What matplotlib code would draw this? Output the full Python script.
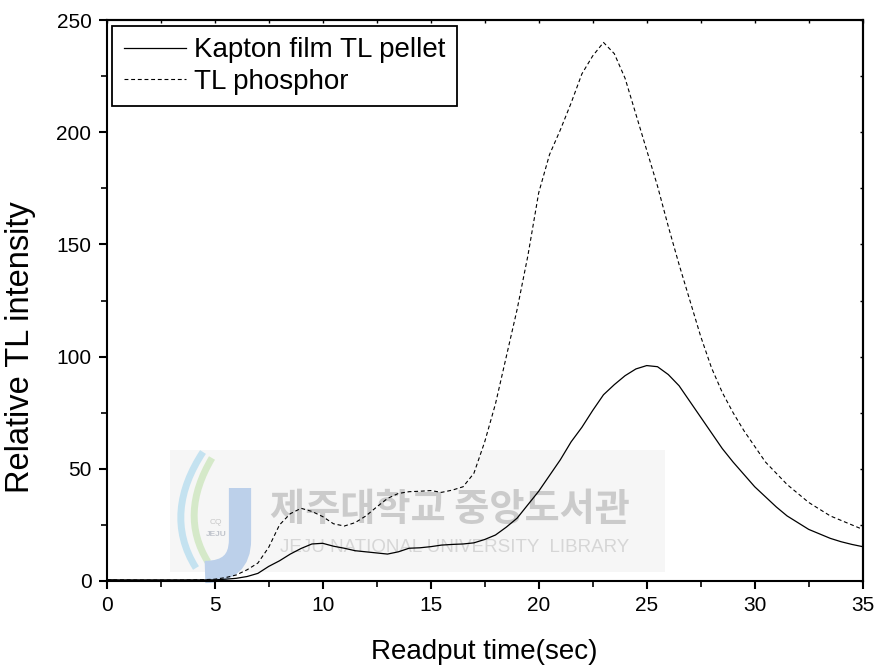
import numpy as np
import matplotlib
matplotlib.use("Agg")
import matplotlib.pyplot as plt
from matplotlib.patches import Rectangle, PathPatch
from matplotlib.path import Path

plt.rcParams['font.family'] = ['Liberation Sans', 'DejaVu Sans']

# Readout time (s)
time_s = np.arange(0, 35.01, 0.5)

kapton = [0.6, 0.5, 0.5, 0.5, 0.5, 0.5, 0.5, 0.5, 0.5, 0.5,
          0.5, 0.8, 1.2, 2.0, 3.4, 6.5, 9.0, 12.0, 14.5, 16.5,
          16.8, 15.5, 14.6, 13.5, 13.0, 12.5, 12.0, 13.0, 14.6, 14.8,
          15.3, 16.0, 16.3, 16.5, 17.0, 18.5, 20.5, 24.0, 28.0, 34.0,
          40.0, 47.0, 54.0, 62.0, 68.5, 76.0, 83.0, 87.5, 91.5, 94.5,
          96.0, 95.5, 92.0, 87.0, 80.0, 73.0, 66.0, 59.0, 53.0, 47.5,
          42.0, 37.5, 33.0, 29.0, 26.0, 23.0, 21.0, 19.0, 17.5, 16.3,
          15.3]

phosphor = [0.5, 0.5, 0.5, 0.4, 0.4, 0.4, 0.4, 0.4, 0.5, 0.6,
            0.8, 1.5, 2.7, 5.0, 8.0, 15.0, 25.0, 30.0, 32.4, 31.0,
            28.7, 25.5, 24.5, 26.0, 29.0, 33.0, 36.8, 39.0, 39.8, 40.0,
            40.3, 39.5, 40.5, 42.0, 48.0, 62.0, 79.0, 100.0, 121.0, 145.0,
            173.0, 190.0, 201.0, 213.0, 226.0, 234.0, 240.0, 235.0, 224.0, 208.0,
            192.0, 176.0, 158.0, 141.0, 125.0, 109.0, 95.0, 84.0, 75.0, 67.0,
            60.0, 53.0, 48.0, 43.0, 39.0, 35.0, 32.0, 29.0, 27.0, 25.0,
            23.0]

W, H = 881, 670
fig = plt.figure(figsize=(W / 100, H / 100), dpi=100)

# Library watermark layer in pixel coordinates
wm = fig.add_axes([0, 0, 1, 1], zorder=0)
wm.set_xlim(0, W)
wm.set_ylim(H, 0)
wm.axis('off')
wm.add_patch(Rectangle((170, 450), 495, 122, facecolor='#f6f6f6', edgecolor='none'))
swoosh1 = Path([(203, 452), (178, 490), (172, 530), (196, 568)],
               [Path.MOVETO, Path.CURVE4, Path.CURVE4, Path.CURVE4])
swoosh2 = Path([(212, 458), (190, 495), (188, 530), (208, 562)],
               [Path.MOVETO, Path.CURVE4, Path.CURVE4, Path.CURVE4])
wm.add_patch(PathPatch(swoosh1, facecolor='none', edgecolor='#bfe0f0', lw=5, alpha=0.9))
wm.add_patch(PathPatch(swoosh2, facecolor='none', edgecolor='#d2e8c4', lw=5, alpha=0.9))
jpath = Path([(240, 488), (240, 540), (240, 572), (205, 572)],
             [Path.MOVETO, Path.LINETO, Path.CURVE3, Path.CURVE3])
wm.add_patch(PathPatch(jpath, facecolor='none', edgecolor='#bcd0ea', lw=16,
                       capstyle='butt'))
wm.text(216, 522, 'CQ', fontsize=6, color='#c8c8c8', ha='center', va='center')
wm.text(216, 535, 'JEJU', fontsize=6, color='#c0c4cc', ha='center', va='center',
        fontweight='bold')
wm.text(450, 510, '제주대학교 중앙도서관', fontsize=27.5, color='#cbcbcb',
        ha='center', va='center', fontweight='bold',
        family=['Noto Sans CJK KR', 'DejaVu Sans'])
wm.text(455, 547, 'JEJU NATIONAL UNIVERSITY  LIBRARY', fontsize=13.5,
        color='#d6d6d6', ha='center', va='center')

ax = fig.add_axes([106.7 / W, 1 - 581 / H, 756 / W, 561 / H], zorder=1)
ax.patch.set_alpha(0)

ax.plot(time_s, kapton, color='black', lw=0.9, label='Kapton film TL pellet')
ax.plot(time_s, phosphor, color='black', lw=0.8, linestyle=(0, (3.5, 2.5)),
        label='TL phosphor')

ax.set_xlim(0, 35)
ax.set_ylim(0, 250)
ax.set_xticks(np.arange(0, 36, 5))
ax.set_xticks(np.arange(2.5, 35, 5), minor=True)
ax.set_yticks(np.arange(0, 251, 50))
ax.set_yticks(np.arange(25, 250, 50), minor=True)

for s in ax.spines.values():
    s.set_linewidth(1.5)

ax.tick_params(which='major', direction='out', length=6, width=1.5,
               labelsize=15, pad=5)
ax.tick_params(which='minor', direction='out', length=4, width=1.2)

# small inward ticks on the top and right frames
top = ax.secondary_xaxis('top')
top.set_xticks(np.arange(0, 36, 5))
top.set_xticks(np.arange(2.5, 35, 5), minor=True)
top.tick_params(which='both', direction='in', length=2, width=1.0, labeltop=False)
top.spines['top'].set_linewidth(1.5)
right = ax.secondary_yaxis('right')
right.set_yticks(np.arange(0, 251, 50))
right.set_yticks(np.arange(25, 250, 50), minor=True)
right.tick_params(which='both', direction='in', length=2, width=1.0, labelright=False)
right.spines['right'].set_linewidth(1.5)

ax.set_xlabel('Readput time(sec)', fontsize=20)
ax.xaxis.set_label_coords(0.5, (581 - 652) / 561)
ax.xaxis.label.set_va('center')
ax.set_ylabel('Relative TL intensity', fontsize=23.5)
ax.yaxis.set_label_coords((21 - 106.7) / 756, (581 - 347) / 561)
ax.yaxis.label.set_va('center')

leg = ax.legend(loc='upper left', fontsize=20, frameon=True, fancybox=False,
                framealpha=1, edgecolor='black', handlelength=2.23,
                handletextpad=0.29, borderpad=0.42, labelspacing=0.2,
                borderaxespad=0.2)
leg.get_frame().set_linewidth(1.3)

fig.savefig('out.png', dpi=100)
